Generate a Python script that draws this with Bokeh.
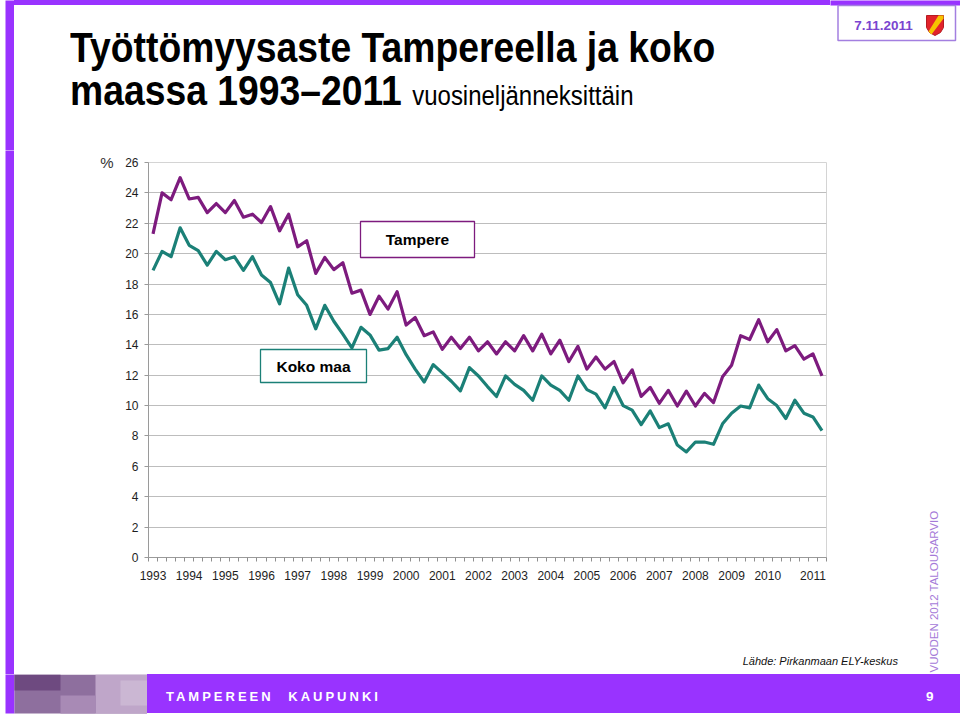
import math
from bokeh.plotting import figure
from bokeh.models import Range1d, FixedTicker, Label, BoxAnnotation, LinearAxis, Div
from bokeh.layouts import row, column
from bokeh.core.properties import value
from bokeh.embed import file_html
from bokeh.resources import INLINE

# ---------------- data ----------------
year_labels = ["1993", "1994", "1995", "1996", "1997", "1998", "1999", "2000", "2001",
               "2002", "2003", "2004", "2005", "2006", "2007", "2008", "2009", "2010", "2011"]

tampere = [21.3, 24.0, 23.55, 25.0, 23.6, 23.7, 22.7, 23.3, 22.7, 23.5,
           22.4, 22.6, 22.05, 23.1, 21.5, 22.6, 20.45, 20.85, 18.7, 19.75,
           18.95, 19.4, 17.4, 17.6, 16.0, 17.2, 16.35, 17.5, 15.3, 15.8,
           14.6, 14.85, 13.7, 14.5, 13.75, 14.5, 13.6, 14.2, 13.4, 14.2,
           13.6, 14.6, 13.6, 14.7, 13.4, 14.3, 12.9, 13.9, 12.4, 13.2,
           12.4, 12.9, 11.5, 12.35, 10.6, 11.2, 10.15, 11.0, 9.97, 10.95,
           9.97, 10.8, 10.2, 11.9, 12.65, 14.6, 14.35, 15.65, 14.2, 15.0,
           13.6, 13.95, 13.05, 13.4, 11.95]

koko_maa = [18.9, 20.15, 19.8, 21.7, 20.55, 20.2, 19.25, 20.15, 19.6, 19.8,
            18.9, 19.8, 18.6, 18.1, 16.7, 19.05, 17.3, 16.6, 15.05, 16.6,
            15.55, 14.7, 13.8, 15.15, 14.65, 13.65, 13.75, 14.5, 13.35, 12.4,
            11.55, 12.7, 12.15, 11.6, 10.97, 12.5, 11.95, 11.25, 10.6, 11.95,
            11.4, 11.0, 10.35, 11.95, 11.35, 11.0, 10.35, 11.95, 11.05, 10.75,
            9.85, 11.2, 10.0, 9.7, 8.75, 9.65, 8.55, 8.8, 7.4, 6.95,
            7.6, 7.6, 7.45, 8.8, 9.5, 9.97, 9.85, 11.35, 10.45, 10.0,
            9.15, 10.35, 9.5, 9.25, 8.35]

y_ticks = list(range(0, 27, 2))

# ---------------- style ----------------
PURPLE = "#7D1B7E"
TEAL = "#1B8077"
VIOLET = "#9933FF"
SANS = "'Liberation Sans', Arial, sans-serif"
CSS_SANS = "'Liberation Sans', Arial, sans-serif"

# page layout (pixels)
PAGE_W, PAGE_H = 960, 716
HEAD_H = 150          # header band  y 0..150
TITLE_X1 = 830        # title block  x 14..830
FOOT_Y = 674          # footer band  y 674..716
FOOT_SPLIT = 147      # footer photo x 14..147
LEFT_W = 14           # left strip   x 0..14
RIGHT_X = 905         # right strip  x 905..960
CHART_B = 590         # chart figure bottom
PL, PT, PR, PB = 148, 162, 826, 557   # plot frame on the page


def deco(x0, x1, y0, y1):
    """A figure whose frame maps page pixels 1:1 (y pointing down)."""
    f = figure(width=x1 - x0, height=y1 - y0, output_backend="svg", toolbar_location=None,
               x_range=Range1d(x0, x1), y_range=Range1d(y1, y0),
               x_axis_type=None, y_axis_type=None, min_border=0)
    f.min_border_left = f.min_border_right = f.min_border_top = f.min_border_bottom = 0
    f.outline_line_color = None
    f.background_fill_color = "white"
    f.border_fill_color = "white"
    f.grid.visible = False
    return f


def rect(f, x0, y0, x1, y1, fill, line=None, lw=1.0):
    f.quad(left=[x0], right=[x1], top=[y0], bottom=[y1], fill_color=fill,
           line_color=line, line_width=lw)


def txt(f, s, x, y, size, color="#000000", style="normal", font=SANS,
        align="left", baseline="alphabetic", angle=0.0):
    f.text(x=[x], y=[y], text=[s], text_font=value(font), text_font_size=value(f"{size}px"),
           text_font_style=style, text_color=color, text_align=align,
           text_baseline=baseline, angle=angle)


# ---------------- header ----------------
hleft = deco(0, LEFT_W, 0, HEAD_H)
rect(hleft, 5, -10, 20, HEAD_H + 10, VIOLET)

title_html = (
    f"<div style=\"position:relative; width:{TITLE_X1 - LEFT_W}px; height:{HEAD_H}px; "
    "background:white; overflow:hidden;\">"
    f"<div style=\"position:absolute; left:0; top:0; width:100%; height:5px; background:{VIOLET};\"></div>"
    "<div style=\"position:absolute; left:56px; top:27px; white-space:nowrap; "
    f"font-family:{CSS_SANS}; font-weight:bold; font-size:42px; line-height:42px; color:#000; "
    "transform:scaleX(0.888); transform-origin:0 0;\">"
    "Työttömyysaste Tampereella ja koko</div>"
    "<div style=\"position:absolute; left:56px; top:70px; white-space:nowrap; "
    f"font-family:{CSS_SANS}; font-weight:bold; font-size:42px; line-height:42px; color:#000; "
    "transform:scaleX(0.888); transform-origin:0 0;\">"
    "maassa 1993–2011 <span style=\"font-weight:normal; font-size:27px;\">"
    "vuosineljänneksittäin</span></div>"
    "</div>"
)
title_div = Div(text=title_html, width=TITLE_X1 - LEFT_W, height=HEAD_H, margin=0)

hright = deco(TITLE_X1, PAGE_W, 0, HEAD_H)
rect(hright, TITLE_X1 - 10, -10, PAGE_W + 10, 5, VIOLET)
rect(hright, 837.5, 5, 955, 40, "white", "#a37fe0", 1.5)
txt(hright, "7.11.2011", 883, 25, 13.5, color="#7a45d0", style="bold",
    align="center", baseline="middle")
hright.patch(x=[926, 943, 943, 940, 934.5, 929, 926], y=[15, 15, 27, 32, 35, 32, 27],
             fill_color="#e2232b", line_color="#b51a22")
hright.patch(x=[938, 943, 943, 931, 928], y=[15, 15, 18, 34, 31],
             fill_color="#f6c400", line_color=None)

# ---------------- left / right strips ----------------
left = deco(0, LEFT_W, HEAD_H, FOOT_Y)
rect(left, 5, HEAD_H - 10, 20, FOOT_Y + 10, VIOLET)

right = deco(RIGHT_X, PAGE_W, HEAD_H, FOOT_Y)
txt(right, "VUODEN 2012 TALOUSARVIO", 933, 591, 11.5, color="#a57ad8", align="center",
    baseline="middle", angle=math.pi / 2)

# ---------------- chart ----------------
n = len(tampere)
xs = list(range(n))

p = figure(width=RIGHT_X - LEFT_W, height=CHART_B - HEAD_H, output_backend="svg",
           toolbar_location=None, x_range=Range1d(-0.5, n - 0.5), y_range=Range1d(0, 26))
p.min_border_left = PL - LEFT_W
p.min_border_right = RIGHT_X - PR
p.min_border_top = PT - HEAD_H
p.min_border_bottom = CHART_B - PB
p.background_fill_color = "white"
p.border_fill_color = "white"
p.outline_line_color = "#d4d4d4"

p.xgrid.visible = False
p.ygrid.ticker = FixedTicker(ticks=y_ticks)
p.ygrid.grid_line_color = "#bdbdbd"
p.ygrid.grid_line_width = 1.2

label_pos = [4 * k for k in range(len(year_labels) - 1)] + [n - 2]
p.xaxis.ticker = FixedTicker(ticks=label_pos, minor_ticks=[i - 0.5 for i in range(n + 1)])
p.xaxis.major_label_overrides = {pos: lab for pos, lab in zip(label_pos, year_labels)}
p.xaxis.major_tick_line_color = None
p.xaxis.major_tick_out = 0
p.xaxis.major_tick_in = 0
p.xaxis.minor_tick_out = 4
p.xaxis.minor_tick_in = 0
p.xaxis.minor_tick_line_color = "#8f8f8f"
p.xaxis.axis_line_color = "#9a9a9a"
p.xaxis.major_label_standoff = 9
p.xaxis.major_label_text_font = SANS
p.xaxis.major_label_text_font_size = "12px"
p.xaxis.major_label_text_color = "#1e1e1e"

p.yaxis.ticker = FixedTicker(ticks=y_ticks)
p.yaxis.minor_tick_line_color = None
p.yaxis.major_tick_out = 4
p.yaxis.major_tick_in = 0
p.yaxis.major_tick_line_color = "#9a9a9a"
p.yaxis.axis_line_color = "#9a9a9a"
p.yaxis.major_label_standoff = 6
p.yaxis.major_label_text_font = SANS
p.yaxis.major_label_text_font_size = "12px"
p.yaxis.major_label_text_color = "#1e1e1e"

# unit sign "%" level with the top tick, as an extra (line-less) left axis
unit_axis = LinearAxis(ticker=FixedTicker(ticks=[26]), major_label_overrides={26: "%"},
                       axis_line_color=None, major_tick_line_color=None,
                       minor_tick_line_color=None, major_label_standoff=3,
                       major_label_text_font=SANS, major_label_text_font_size="15px",
                       major_label_text_color="#333333")
p.add_layout(unit_axis, "left")

p.line(xs, tampere, line_color=PURPLE, line_width=3.2, line_join="round")
p.line(xs, koko_maa, line_color=TEAL, line_width=3.2, line_join="round")


def sx(X):
    return X - PL


def sy(Y):
    return PB - Y


def inbox(x0, y0, x1, y1, line):
    p.add_layout(BoxAnnotation(left=sx(x0), right=sx(x1), top=sy(y0), bottom=sy(y1),
                               left_units="screen", right_units="screen",
                               top_units="screen", bottom_units="screen",
                               fill_color="white", fill_alpha=1.0,
                               line_color=line, line_alpha=1.0, line_width=1.3))


def inlabel(s, X, Y):
    p.add_layout(Label(x=sx(X), y=sy(Y), x_units="screen", y_units="screen", text=s,
                       text_font=SANS, text_font_size="15.5px", text_font_style="bold",
                       text_color="#000000", text_align="center", text_baseline="middle"))


inbox(360, 221, 474, 257, PURPLE)
inlabel("Tampere", 417, 239)
inbox(260, 349, 366, 382, TEAL)
inlabel("Koko maa", 313, 366)

# ---------------- source line (HTML text below the chart) ----------------
src = Div(text=("<div style=\"width:884px; text-align:right; margin:0; padding-top:65px; "
                f"font-family:{CSS_SANS}; font-size:11px; "
                "font-style:italic; line-height:13px; color:#111111;\">"
                "Lähde: Pirkanmaan ELY-keskus</div>"),
          width=RIGHT_X - LEFT_W, height=FOOT_Y - CHART_B, margin=0)

# ---------------- footer ----------------
foot = deco(0, FOOT_SPLIT, FOOT_Y, PAGE_H)
rect(foot, 5, FOOT_Y - 10, 14, 713, VIOLET)
rect(foot, 14, FOOT_Y, 147, 713, "#8e6f9e")
rect(foot, 95, FOOT_Y, 147, 713, "#bfa6c9")
rect(foot, 14, FOOT_Y, 60, 690, "#6e4a80")
rect(foot, 60, 695, 95, 713, "#a88ab5")
rect(foot, 120, 680, 147, 705, "#cbb7d3")

foot_html = (
    f"<div style=\"position:relative; width:{PAGE_W - FOOT_SPLIT}px; height:{PAGE_H - FOOT_Y}px; "
    "background:white; overflow:hidden;\">"
    f"<div style=\"position:absolute; left:0; top:0; width:100%; height:39px; background:{VIOLET};\"></div>"
    "<div style=\"position:absolute; left:19px; top:3px; height:39px; line-height:39px; "
    f"white-space:nowrap; font-family:{CSS_SANS}; font-weight:bold; font-size:13px; "
    "letter-spacing:3px; word-spacing:8px; color:white;\">TAMPEREEN KAUPUNKI</div>"
    "<div style=\"position:absolute; left:779px; top:3px; height:39px; line-height:39px; "
    f"font-family:{CSS_SANS}; font-weight:bold; font-size:13.5px; color:white;\">9</div>"
    "</div>"
)
foot_div = Div(text=foot_html, width=PAGE_W - FOOT_SPLIT, height=PAGE_H - FOOT_Y, margin=0)

page = column(row(hleft, title_div, hright),
              row(left, column(p, src), right),
              row(foot, foot_div))
open("out.html", "w").write(file_html(page, INLINE))
